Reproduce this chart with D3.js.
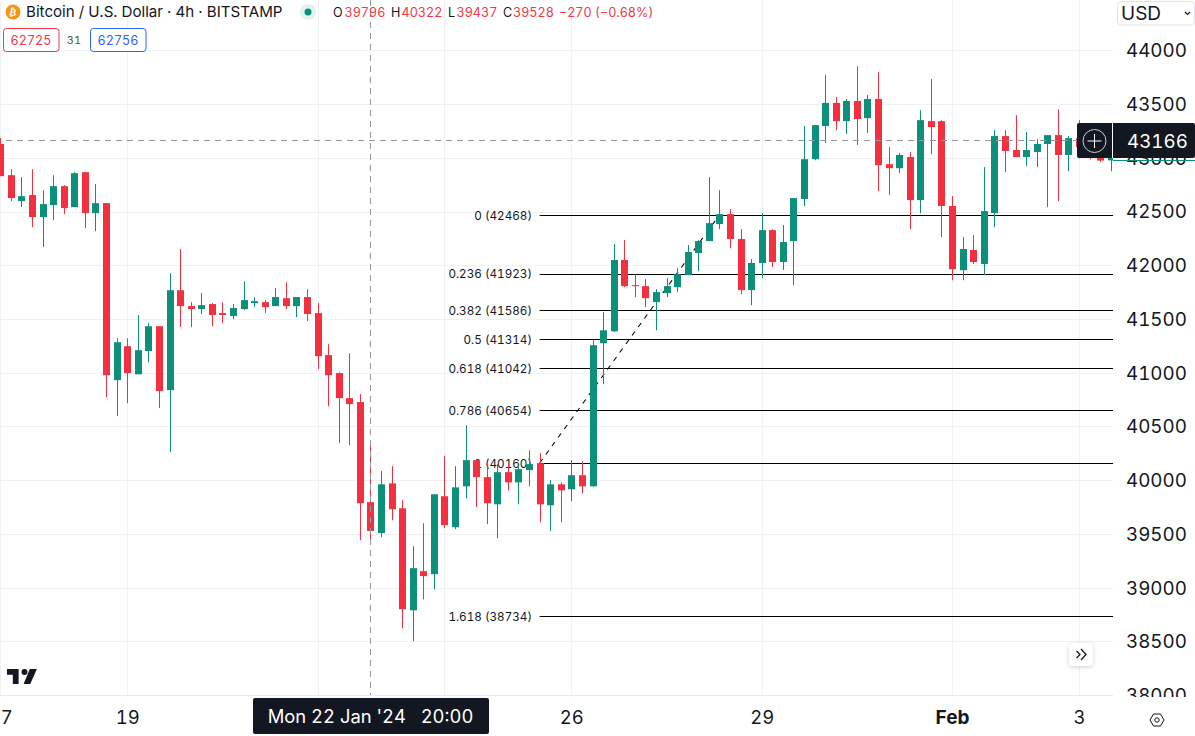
<!DOCTYPE html>
<html>
<head>
    <meta charset="utf-8">
    <title>Bitcoin / U.S. Dollar</title>
    <script src="https://d3js.org/d3.v7.min.js"></script>
    <style type="text/css">
        html, body { margin:0; padding:0; background:#fff; overflow:hidden; }
        svg { display:block; font-family:Inter, "Noto Sans", sans-serif; font-variant-numeric:tabular-nums; }
        .domain { display:none; }
    </style>
</head>
<body>
<script type="text/javascript">
// 4h bars. bar 0 is 17 Jan 00:00
const opens = [43128,42838,42597,42653,42448,42560,42736,42541,42866,42485,
    42578,40931,41247,40986,41201,41433,40838,41768,41620,41592,
    41639,41555,41527,41592,41648,41657,41620,41694,41620,41704,
    41555,41164,40997,40764,40727,39796,39508,39971,39739,38790,
    39154,39126,39851,39563,39943,40187,40029,39776,40075,39980,
    40094,40159,39767,39962,39916,40047,39943,41275,41386,42049,
    41815,41806,41657,41741,41796,41908,42114,42225,42383,42476,
    42244,41769,42021,42327,42030,42225,42616,42987,43295,43510,
    43341,43529,43369,43547,42940,42903,43007,42606,43341,43341,
    42551,41954,42142,42012,42485,43202,43072,43007,43054,43128,
    43211,43026,43183,43097,43017,42976];
const highs = [43183,42894,42820,42894,42699,42838,42745,42866,42866,42755,
    42578,41321,41321,41537,41462,41433,41926,42151,41657,41741,
    41648,41657,41639,41852,41703,41676,41787,41843,41704,41778,
    41648,41266,41005,41182,40801,40322,40085,40131,39814,39386,
    39600,39869,40224,40131,40513,40196,40150,40150,40150,40131,
    40279,40252,40001,39980,40187,40177,41303,41564,42197,42234,
    41917,41871,41778,41880,41973,42188,42234,42820,42699,42523,
    42336,42058,42485,42336,42374,42625,43295,43304,43770,43566,
    43547,43853,43584,43798,43100,43044,43054,43443,43733,43350,
    42643,42262,42281,42913,43258,43258,43397,43239,43174,43211,
    43452,43202,43350,43147,43037,43007];
const lows = [42829,42597,42541,42355,42169,42420,42476,42541,42346,42318,
    40773,40597,40717,40986,41099,40671,40261,41425,41425,41546,
    41433,41462,41499,41583,41611,41555,41620,41592,41518,41481,
    41034,40689,40344,40326,39443,39437,39469,39628,38623,38503,
    38892,38985,39554,39545,39832,39749,39591,39461,39906,39776,
    39943,39609,39526,39609,39804,39879,39943,40894,41379,41796,
    41704,41611,41395,41704,41750,41908,41945,42225,42336,42160,
    41731,41629,41880,41984,41956,41815,42551,42977,43137,43258,
    43221,43119,43230,42690,42653,42857,42336,42485,43035,42262,
    41861,41861,42012,41908,42355,42866,43007,42922,42913,42541,
    42597,42875,42995,42985,42960,42875];
const closes = [42829,42625,42643,42448,42569,42736,42532,42857,42485,42578,
    40977,41284,40997,41210,41433,40829,41768,41620,41592,41629,
    41537,41537,41602,41676,41666,41611,41704,41620,41704,41546,
    41154,40977,40764,40708,39786,39528,39962,39730,38800,39182,
    39108,39869,39582,39934,40187,40029,39786,40075,39980,40103,
    40150,39776,39962,39906,40047,39943,41256,41395,42049,41806,
    41806,41694,41750,41806,41917,42123,42225,42392,42476,42244,
    41769,42021,42327,42030,42216,42625,42987,43304,43510,43341,
    43529,43360,43547,42931,42903,43026,42606,43350,43286,42551,
    41963,42151,42030,42504,43202,43063,43007,43072,43128,43211,
    43026,43183,43097,43017,42974,42998];

const priceTicks = [44000,43500,43000,42500,42000,41500,41000,40500,40000,39500,39000,38500,38000];
const dateBars = [0,12,30,42,54,72,90,102];
// 22 and 24 sit behind the date tag so they have no label
const dateLabels = ["17","19","","","26","29","Feb","3"];

const fibRatios = ["0","0.236","0.382","0.5","0.618","0.786","1","1.618"];
const fibPrices = [42468,41923,41586,41314,41042,40654,40160,38734];
const fibStartBar = 51, fibEndBar = 68;

const crossBar = 35, crossPrice = 43166, lastPrice = 42976;
const crossChange = "\u2212270 (\u22120.68%)";
const crossDate = "Mon 22 Jan '24\u00a0\u00a0\u00a020:00";

const green = "#0c9079", red = "#f2303f", textRed = "#f23645",
    ink = "#131722", gridCol = "#f0f1f3", crossCol = "#9598a1";

let width = 1195, height = 736,
    plotRight = 1113, plotBottom = 695.2;

let svg = d3.select("body").append("svg")
    .attr("width", width)
    .attr("height", height);

let x = d3.scaleLinear().domain([0, 105]).range([0.3, 1110.7]);
let y = d3.scaleLinear().domain([38000, 44000]).range([plotBottom, 50.3]);
let px = i => Math.round(x(i));
let py = p => Math.round(y(p)) + 0.5;

svg.append("clipPath").attr("id", "plot")
    .append("rect").attr("width", plotRight).attr("height", plotBottom + 2);
svg.append("clipPath").attr("id", "scale")
    .append("rect").attr("x", plotRight).attr("width", width - plotRight).attr("height", 697);

// grid
let grid = svg.append("g").attr("clip-path", "url(#plot)");
grid.selectAll(".gh").data(priceTicks).join("line")
    .attr("x1", 0).attr("x2", plotRight)
    .attr("y1", py).attr("y2", py)
    .style("stroke", gridCol);
grid.selectAll(".gv").data(dateBars).join("line")
    .attr("x1", d => px(d) + 0.5).attr("x2", d => px(d) + 0.5)
    .attr("y1", 0).attr("y2", plotBottom + 2)
    .style("stroke", gridCol);

// fib retracement, sits under the candles
let fib = svg.append("g");
fib.selectAll("line").data(fibPrices).join("line")
    .attr("x1", x(fibStartBar)).attr("x2", plotRight)
    .attr("y1", py).attr("y2", py)
    .style("stroke", "#000").style("stroke-width", 1);
fib.selectAll("text").data(fibPrices).join("text")
    .attr("x", 532).attr("y", d => y(d) + 0.7).attr("dy", "0.35em")
    .attr("text-anchor", "end")
    .style("font-size", "11.7px").style("fill", ink)
    .text((d, i) => fibRatios[i] + " (" + d + ")");
fib.append("line")
    .attr("x1", x(fibStartBar)).attr("y1", y(fibPrices[6]))
    .attr("x2", x(fibEndBar)).attr("y2", y(fibPrices[0]))
    .style("stroke", "#000").style("stroke-width", 1.1).style("stroke-dasharray", "5,5.5");

// candles
let bars = svg.append("g").attr("clip-path", "url(#plot)");
let col = i => closes[i] >= opens[i] ? green : red;
bars.selectAll(".wick").data(d3.range(opens.length)).join("rect")
    .attr("x", i => px(i)).attr("width", 1)
    .attr("y", i => y(highs[i]))
    .attr("height", i => y(lows[i]) - y(highs[i]))
    .style("fill", col);
bars.selectAll(".body").data(d3.range(opens.length)).join("rect")
    .attr("x", i => px(i) - 3).attr("width", 7)
    .attr("y", i => y(Math.max(opens[i], closes[i])))
    .attr("height", i => Math.max(1, Math.abs(y(opens[i]) - y(closes[i]))))
    .style("fill", col);

// crosshair
svg.append("line")
    .attr("x1", 6).attr("x2", plotRight)
    .attr("y1", py(crossPrice)).attr("y2", py(crossPrice))
    .style("stroke", crossCol).style("stroke-dasharray", "6,5");
svg.append("line")
    .attr("x1", px(crossBar) + 0.5).attr("x2", px(crossBar) + 0.5)
    .attr("y1", 0).attr("y2", plotBottom)
    .style("stroke", crossCol).style("stroke-dasharray", "6,5");

// axes
svg.append("line").attr("x1", 0).attr("x2", plotRight)
    .attr("y1", 695.5).attr("y2", 695.5)
    .style("stroke", "#e8e9ec");

let rightAxis = svg.append("g").attr("clip-path", "url(#scale)")
    .append("g")
    .attr("transform", "translate(" + plotRight + ",0.4)")
    .call(d3.axisRight(y).tickValues(priceTicks).tickSize(0).tickPadding(13).tickFormat(d3.format("d")));
rightAxis.selectAll("text").style("font-size", "18.8px").style("fill", ink).style("font-family", "Inter");

let bottomAxis = svg.append("g")
    .attr("transform", "translate(0,697)")
    .call(d3.axisBottom(x).tickValues(dateBars).tickSize(0).tickPadding(14)
        .tickFormat((d, i) => dateLabels[i]));
bottomAxis.selectAll("text")
    .style("font-size", (d, i) => dateLabels[i] == "Feb" ? "19px" : "18.5px")
    .style("fill", ink).style("font-family", "Inter")
    .style("font-weight", (d, i) => dateLabels[i] == "Feb" ? 700 : 400);

// last price line on the scale
svg.append("line").attr("x1", plotRight).attr("x2", width)
    .attr("y1", py(lastPrice)).attr("y2", py(lastPrice))
    .style("stroke", green);

// crosshair price tag
svg.append("rect").attr("x", 1077).attr("y", 123).attr("width", 118).attr("height", 35).attr("rx", 2)
    .style("fill", ink);
svg.append("rect").attr("x", 1112).attr("y", 123).attr("width", 1).attr("height", 35).style("fill", "#fff");
svg.append("circle").attr("cx", 1094.5).attr("cy", 141).attr("r", 11.5)
    .style("fill", "none").style("stroke", "#c9cbd0").style("stroke-width", 1);
svg.append("path").attr("d", "M1087.5 141H1101.5M1094.5 134V148")
    .style("stroke", "#fff").style("fill", "none");
svg.append("text").attr("x", 1127).attr("y", 141).attr("dy", "0.36em")
    .style("font-size", "18.8px").style("fill", "#fff").text(crossPrice);

// crosshair date tag
svg.append("rect").attr("x", 253).attr("y", 698).attr("width", 236).attr("height", 36).attr("rx", 2)
    .style("fill", ink);
svg.append("text").attr("x", 370.5).attr("y", 716.5).attr("dy", "0.36em")
    .attr("text-anchor", "middle")
    .style("font-size", "18.4px").style("fill", "#fff").text(crossDate);

// currency box
svg.append("rect").attr("x", 1117.5).attr("y", 1.5).attr("width", 77).attr("height", 23.5).attr("rx", 4)
    .style("fill", "#fff").style("stroke", "#e0e3eb");
svg.append("text").attr("x", 1121).attr("y", 13.5).attr("dy", "0.36em")
    .style("font-size", "19px").style("fill", ink).text("USD");
svg.append("path").attr("d", "M1185 12L1187.5 14.5L1190 12")
    .style("fill", "none").style("stroke", ink).style("stroke-width", 1.2);

// header
svg.append("circle").attr("cx", 13).attr("cy", 12).attr("r", 7.5).style("fill", "#f7931a");
svg.append("text").attr("x", 13).attr("y", 12).attr("dy", "0.36em")
    .attr("text-anchor", "middle")
    .attr("transform", "rotate(12,13,12)")
    .style("font-family", "DejaVu Sans").style("font-size", "10px").style("font-weight", 700)
    .style("fill", "#fff").text("\u20bf");
svg.append("text").attr("x", 26).attr("y", 12).attr("dy", "0.36em")
    .style("font-size", "15.15px").style("fill", ink)
    .text("Bitcoin / U.S. Dollar \u00b7 4h \u00b7 BITSTAMP");
svg.append("circle").attr("cx", 308).attr("cy", 12).attr("r", 8).style("fill", "#e0f2ef");
svg.append("circle").attr("cx", 308).attr("cy", 12).attr("r", 3.5).style("fill", green);

let ohlc = svg.append("g").style("font-size", "12.6px");
[["O", 333, opens[crossBar], 344.5], ["H", 391, highs[crossBar], 401.5],
 ["L", 448, lows[crossBar], 456.5], ["C", 503, closes[crossBar], 513]].forEach(d => {
    ohlc.append("text").attr("x", d[1]).attr("y", 12).attr("dy", "0.36em")
        .style("fill", ink).text(d[0]);
    ohlc.append("text").attr("x", d[3]).attr("y", 12).attr("dy", "0.36em")
        .style("fill", textRed).text(d[2]);
});
ohlc.append("text").attr("x", 559).attr("y", 12).attr("dy", "0.36em")
    .style("fill", textRed)
    .text(crossChange);

// indicator line
const maBoxes = [[3, "62725", textRed], [90, "62756", "#2962ff"]];
maBoxes.forEach(d => {
    svg.append("rect").attr("x", d[0] + 0.5).attr("y", 28.5).attr("width", 55.5).attr("height", 23).attr("rx", 3)
        .style("fill", "#fff").style("stroke", d[2]);
    svg.append("text").attr("x", d[0] + 28).attr("y", 40).attr("dy", "0.36em")
        .attr("text-anchor", "middle")
        .style("font-size", "12.6px").style("fill", d[2]).text(d[1]);
});
svg.append("text").attr("x", 74).attr("y", 40).attr("dy", "0.36em")
    .attr("text-anchor", "middle")
    .style("font-size", "11px").style("fill", "#50535e").text("31");

// tradingview logo
svg.append("path")
    .attr("transform", "translate(7,669) scale(0.83,0.83)")
    .attr("d", "M14 0H0V7H7V18H14V0ZM28 18H20L27.5 0H36L28 18Z")
    .style("fill", ink);
svg.append("circle").attr("cx", 24.5).attr("cy", 672).attr("r", 3).style("fill", ink);

// scroll button
svg.append("rect").attr("x", 1069).attr("y", 643).attr("width", 24).attr("height", 23).attr("rx", 4)
    .style("fill", "#fff").style("filter", "drop-shadow(0 1px 2px rgba(0,0,0,0.18))");
svg.append("path").attr("d", "M1076.5 651L1080 654.5L1076.5 658M1081 649L1086 654.5L1081 660")
    .style("fill", "none").style("stroke", ink).style("stroke-width", 1.3);

// settings icon
svg.append("path").attr("d", "M1150 720L1153.5 714H1160.5L1164 720L1160.5 726H1153.5Z")
    .style("fill", "none").style("stroke", ink).style("stroke-width", 1);
svg.append("circle").attr("cx", 1157).attr("cy", 720).attr("r", 2.2)
    .style("fill", "none").style("stroke", ink).style("stroke-width", 1);
</script>
</body>
</html>
